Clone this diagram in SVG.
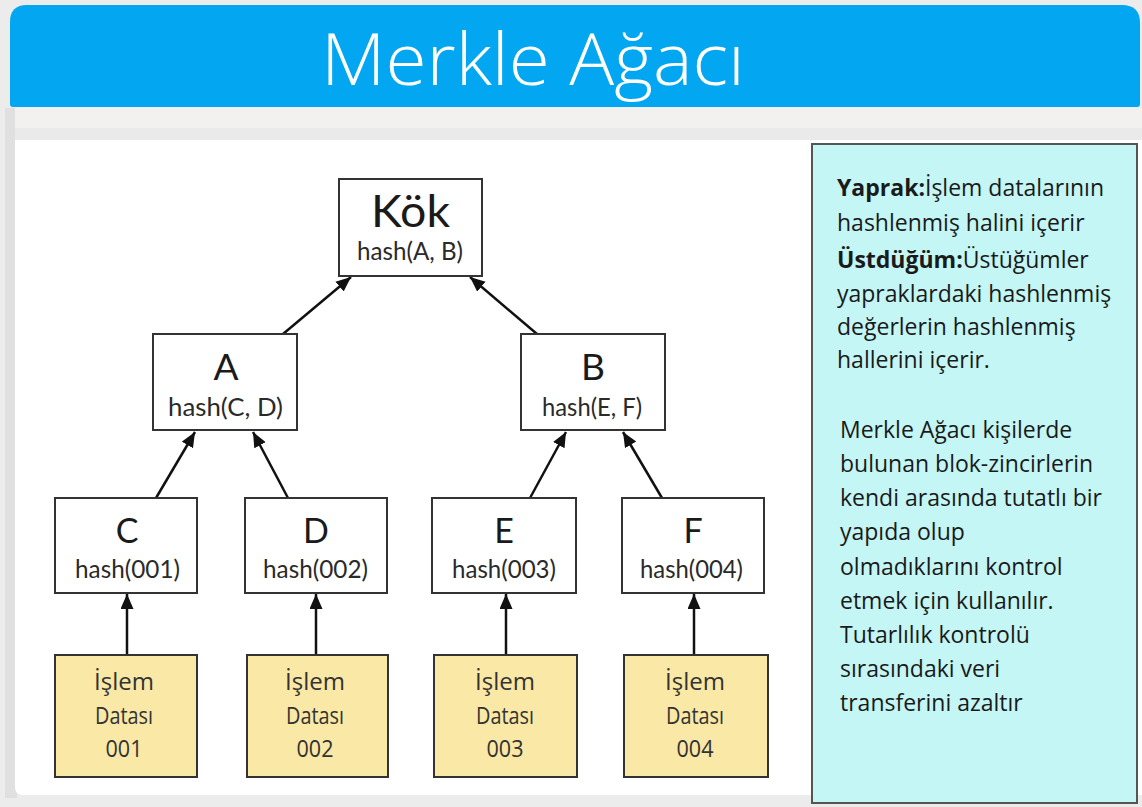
<svg xmlns="http://www.w3.org/2000/svg" width="1142" height="807" viewBox="0 0 1142 807">
<defs>
<marker id="ah" markerUnits="userSpaceOnUse" markerWidth="16" markerHeight="14" refX="15" refY="6.5" orient="auto">
<path d="M0,0 L15,6.5 L0,13 z" fill="#111"/>
</marker>
<style>
.box{fill:#fff;stroke:#333;stroke-width:2}
.leaf{fill:#f9e8a6;stroke:#333;stroke-width:2}
.big{font-family:Lato,"Open Sans",sans-serif;fill:#1a1a1a;text-anchor:middle}
.hs{font-family:Lato,"Open Sans",sans-serif;fill:#2a2a2a;text-anchor:middle;font-size:25px}
.lt{font-family:"Open Sans","Noto Sans",sans-serif;fill:#333;text-anchor:middle;font-size:24px}
.side{font-family:"Open Sans","Noto Sans",sans-serif;fill:#1a1a1a;font-size:23px}
.conn line{stroke:#111;stroke-width:2.5;marker-end:url(#ah)}
</style>
</defs>
<rect x="0" y="0" width="1142" height="807" fill="#ececec"/>
<rect x="5" y="108" width="12" height="690" fill="#e0e0e0"/>
<rect x="15" y="108" width="1127" height="22" fill="#f3f0f0"/>
<rect x="15" y="128" width="1127" height="12" fill="#eaeaea"/>
<path d="M15,140 H1142 V795 H23 Q15,795 15,787 Z" fill="#fff"/>
<path d="M27,5 H1122 Q1140,5 1140,23 V104 Q1140,107 1137,107 H13 Q10,107 10,104 V22 Q10,5 27,5 Z" fill="#03a6f0"/>
<text x="533" y="85" font-family="'Open Sans','Noto Sans',sans-serif" font-size="72" font-weight="300" fill="#fff" text-anchor="middle" textLength="424" lengthAdjust="spacingAndGlyphs">Merkle Ağacı</text>

<g class="conn">
<line x1="283" y1="334" x2="351" y2="277"/>
<line x1="537" y1="334" x2="470" y2="277"/>
<line x1="156" y1="498" x2="195" y2="432"/>
<line x1="288" y1="498" x2="253" y2="432"/>
<line x1="530" y1="498" x2="566" y2="432"/>
<line x1="662" y1="498" x2="623" y2="432"/>
<line x1="127" y1="655" x2="127" y2="594"/>
<line x1="316" y1="655" x2="316" y2="594"/>
<line x1="506" y1="655" x2="506" y2="594"/>
<line x1="694" y1="655" x2="694" y2="594"/>
</g>

<g id="kok">
<rect class="box" x="339" y="179" width="143" height="97"/>
<text class="big" x="410.5" y="227" font-size="44" textLength="79" lengthAdjust="spacingAndGlyphs">Kök</text>
<text class="hs" x="410" y="260" font-size="26" textLength="106" lengthAdjust="spacingAndGlyphs">hash(A, B)</text>
</g>
<g id="A">
<rect class="box" x="153" y="334" width="144" height="96"/>
<text class="big" x="226" y="380" font-size="37">A</text>
<text class="hs" x="225.5" y="416" font-size="26" textLength="115" lengthAdjust="spacingAndGlyphs">hash(C, D)</text>
</g>
<g id="B">
<rect class="box" x="521" y="334" width="144" height="96"/>
<text class="big" x="593" y="380" font-size="37">B</text>
<text class="hs" x="592" y="416" font-size="26" textLength="100" lengthAdjust="spacingAndGlyphs">hash(E, F)</text>
</g>
<g id="C">
<rect class="box" x="55" y="498" width="142" height="95"/>
<text class="big" x="127" y="543" font-size="34">C</text>
<text class="hs" x="127.5" y="578" textLength="105" lengthAdjust="spacingAndGlyphs">hash(001)</text>
</g>
<g id="D">
<rect class="box" x="245" y="498" width="142" height="95"/>
<text class="big" x="316" y="543" font-size="34">D</text>
<text class="hs" x="315.5" y="578" textLength="105" lengthAdjust="spacingAndGlyphs">hash(002)</text>
</g>
<g id="E">
<rect class="box" x="432" y="498" width="144" height="95"/>
<text class="big" x="504" y="543" font-size="34">E</text>
<text class="hs" x="504" y="578" textLength="104" lengthAdjust="spacingAndGlyphs">hash(003)</text>
</g>
<g id="F">
<rect class="box" x="622" y="498" width="142" height="95"/>
<text class="big" x="693" y="543" font-size="34">F</text>
<text class="hs" x="691.5" y="578" textLength="103" lengthAdjust="spacingAndGlyphs">hash(004)</text>
</g>

<g id="data001">
<rect class="leaf" x="55" y="655" width="142" height="122"/>
<text class="lt" x="124" y="690" textLength="60" lengthAdjust="spacingAndGlyphs">İşlem</text>
<text class="lt" x="124" y="724" textLength="58" lengthAdjust="spacingAndGlyphs">Datası</text>
<text class="lt" x="124" y="757" textLength="37" lengthAdjust="spacingAndGlyphs">001</text>
</g>
<g id="data002">
<rect class="leaf" x="247" y="655" width="141" height="122"/>
<text class="lt" x="315" y="690" textLength="60" lengthAdjust="spacingAndGlyphs">İşlem</text>
<text class="lt" x="315" y="724" textLength="58" lengthAdjust="spacingAndGlyphs">Datası</text>
<text class="lt" x="315" y="757" textLength="37" lengthAdjust="spacingAndGlyphs">002</text>
</g>
<g id="data003">
<rect class="leaf" x="434" y="655" width="143" height="122"/>
<text class="lt" x="505" y="690" textLength="60" lengthAdjust="spacingAndGlyphs">İşlem</text>
<text class="lt" x="505" y="724" textLength="58" lengthAdjust="spacingAndGlyphs">Datası</text>
<text class="lt" x="505" y="757" textLength="37" lengthAdjust="spacingAndGlyphs">003</text>
</g>
<g id="data004">
<rect class="leaf" x="624" y="655" width="144" height="122"/>
<text class="lt" x="695" y="690" textLength="60" lengthAdjust="spacingAndGlyphs">İşlem</text>
<text class="lt" x="695" y="724" textLength="58" lengthAdjust="spacingAndGlyphs">Datası</text>
<text class="lt" x="695" y="757" textLength="37" lengthAdjust="spacingAndGlyphs">004</text>
</g>

<g id="panel">
<rect x="812" y="144" width="325" height="659" fill="#c4f6f5" stroke="#555" stroke-width="2"/>
<text class="side" x="837" y="196"><tspan font-weight="700">Yaprak:</tspan>İşlem datalarının</text>
<text class="side" x="837" y="231">hashlenmiş halini içerir</text>
<text class="side" x="837" y="268"><tspan font-weight="700">Üstdüğüm:</tspan>Üstüğümler</text>
<text class="side" x="837" y="302">yapraklardaki hashlenmiş</text>
<text class="side" x="837" y="335">değerlerin hashlenmiş</text>
<text class="side" x="837" y="368">hallerini içerir.</text>
<text class="side" x="840" y="438">Merkle Ağacı kişilerde</text>
<text class="side" x="840" y="472">bulunan blok-zincirlerin</text>
<text class="side" x="840" y="506">kendi arasında tutatlı bir</text>
<text class="side" x="840" y="540">yapıda olup</text>
<text class="side" x="840" y="575">olmadıklarını kontrol</text>
<text class="side" x="840" y="609">etmek için kullanılır.</text>
<text class="side" x="840" y="643">Tutarlılık kontrolü</text>
<text class="side" x="840" y="677">sırasındaki veri</text>
<text class="side" x="840" y="711">transferini azaltır</text>
</g>
</svg>
